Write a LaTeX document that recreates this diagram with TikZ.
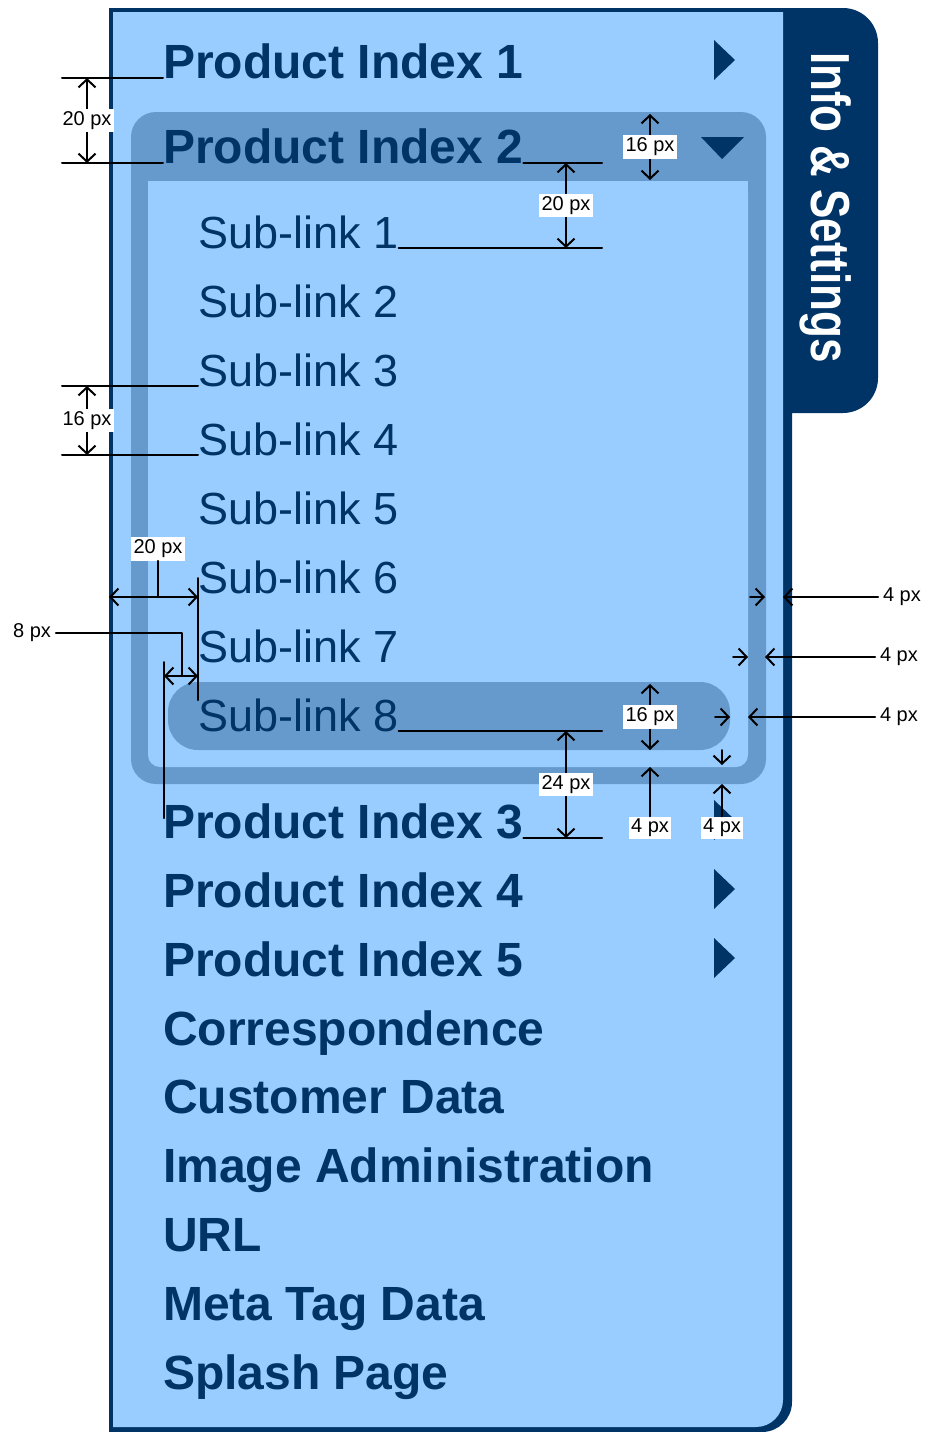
\documentclass[tikz,border=0pt]{standalone}
\usepackage{fontspec}
\setmainfont{Liberation Sans}
\usetikzlibrary{arrows.meta}
\definecolor{navy}{HTML}{003366}
\definecolor{midblue}{HTML}{6699CC}
\definecolor{lightblue}{HTML}{99CCFF}
\tikzset{
  mainitem/.style={anchor=base west, inner sep=0pt, text=navy, font=\bfseries\fontsize{48}{50}\selectfont},
  sublink/.style={anchor=base west, inner sep=0pt, text=navy, font=\fontsize{45}{48}\selectfont},
  pxlabel/.style={fill=white, inner sep=2.5pt, font=\fontsize{20}{21}\selectfont},
  pxtext/.style={inner sep=1pt, outer sep=4pt, font=\fontsize{20}{21}\selectfont},
  dimline/.style={line width=2pt}
}

\begin{document}
\begin{tikzpicture}[x=1pt,y=-1pt,line cap=round,line join=round,>={Straight Barb[length=8pt,width=17pt]}]
\useasboundingbox (0,0) rectangle (930,1432);
% panel with tab
\fill[navy] (109,8) -- (843,8) arc (-90:0:35) -- (878,378) arc (0:90:35) -- (792,413) -- (792,1402) arc (0:90:30) -- (109,1432) -- cycle;
\fill[lightblue] (113,12) -- (783,12) -- (783,1400) arc (0:90:27) -- (113,1427) -- cycle;
\node[rotate=-90, anchor=base west, inner sep=0pt, text=white, font=\bfseries\fontsize{44}{46}\selectfont] (tab) at (811,52) {\scalebox{1}[1.25]{Info \& Settings}};
% open group
\fill[midblue, rounded corners=25] (131,112) rectangle (766,784);
\fill[lightblue, rounded corners=12] (148,181) rectangle (748,767);
\fill[lightblue] (148,181) rectangle (748,200);
\fill[midblue, rounded corners=30] (168,682) rectangle (730,750);
% arrows of the items
\fill[navy] (714,40) -- (735,60) -- (714,80) -- cycle;
\fill[navy] (701,137) -- (744,137) -- (722,159) -- cycle;
\fill[navy] (714,800) -- (735,820) -- (714,840) -- cycle;
\fill[navy] (714,869) -- (735,889) -- (714,909) -- cycle;
\fill[navy] (714,938) -- (735,958) -- (714,978) -- cycle;
% items
\node[mainitem] (pi1) at (163,78) {Product Index 1};
\node[mainitem] (pi2) at (163,163) {Product Index 2};
\node[sublink] (sl1) at (198,248) {Sub-link 1};
\node[sublink] (sl2) at (198,317) {Sub-link 2};
\node[sublink] (sl3) at (198,386) {Sub-link 3};
\node[sublink] (sl4) at (198,455) {Sub-link 4};
\node[sublink] (sl5) at (198,524) {Sub-link 5};
\node[sublink] (sl6) at (198,593) {Sub-link 6};
\node[sublink] (sl7) at (198,662) {Sub-link 7};
\node[sublink] (sl8) at (198,731) {Sub-link 8};
\node[mainitem] (pi3) at (163,838) {Product Index 3};
\node[mainitem] (pi4) at (163,907) {Product Index 4};
\node[mainitem] (pi5) at (163,976) {Product Index 5};
\node[mainitem] (corr) at (163,1045) {Correspondence};
\node[mainitem] (cust) at (163,1113) {Customer Data};
\node[mainitem] (imgadm) at (163,1182) {Image Administration};
\node[mainitem] (url) at (163,1251) {URL};
\node[mainitem] (meta) at (163,1320) {Meta Tag Data};
\node[mainitem] (splash) at (163,1389) {Splash Page};
% measures
\draw[dimline] (62,78) -- (pi1.base west);
\draw[dimline] (62,163) -- (pi2.base west);
\draw[dimline,<->] (87,78) -- node[pxlabel] {20 px} (87,163);
\draw[dimline,<->] (650,114) -- node[pxlabel] {16 px} (650,180);
\draw[dimline] (pi2.base east) -- (602,163);
\draw[dimline] (sl1.base east) -- (602,248);
\draw[dimline,<->] (566,163) -- node[pxlabel] {20 px} (566,248);
\draw[dimline] (62,386) -- (sl3.base west);
\draw[dimline] (62,455) -- (sl4.base west);
\draw[dimline,<->] (87,386) -- node[pxlabel] {16 px} (87,455);
\draw[dimline] (198,578) -- (198,700);
\draw[dimline,<->] (109,597) -- (198,597);
\node[pxlabel] (ind) at (158,549) {20 px};
\draw[dimline] (ind) -- (158,597);
\node[pxtext] (eight) at (32,633) {8 px};
\draw[dimline] (eight) -- (182,633) -- (182,676);
\draw[dimline] (164,662) -- (164,818);
\draw[dimline,<->] (164,676) -- (198,676);
\node[pxtext, anchor=west] (r1) at (878,597) {4 px};
\draw[dimline,->] (r1) -- (783,597);
\draw[dimline,->] (750,597) -- (765,597);
\node[pxtext, anchor=west] (r2) at (875,657) {4 px};
\draw[dimline,->] (r2) -- (765,657);
\draw[dimline,->] (733,657) -- (748,657);
\node[pxtext, anchor=west] (r3) at (875,717) {4 px};
\draw[dimline,->] (r3) -- (748,717);
\draw[dimline,->] (715,717) -- (730,717);
\draw[dimline,<->] (650,684) -- node[pxlabel] {16 px} (650,750);
\draw[dimline] (sl8.base east) -- (602,731);
\draw[dimline] (pi3.base east) -- (602,838);
\draw[dimline,<->] (566,731) -- node[pxlabel] {24 px} (566,838);
\node[pxlabel] (b1) at (650,828) {4 px};
\draw[dimline,->] (b1) -- (650,767);
\node[pxlabel] (b2) at (722,828) {4 px};
\draw[dimline,->] (b2) -- (722,784);
\draw[dimline,->] (722,750) -- (722,765);
\end{tikzpicture}
\end{document}
